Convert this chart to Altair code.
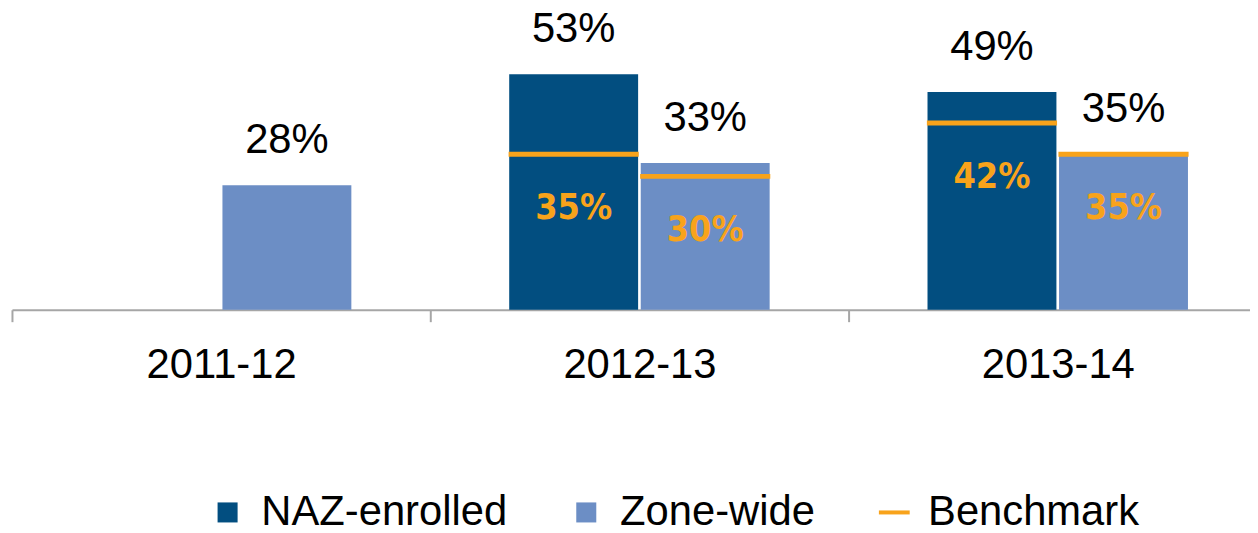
import altair as alt
import pandas as pd

years = ["2011-12", "2012-13", "2013-14"]
series_names = ["NAZ-enrolled", "Zone-wide"]
legend_names = ["NAZ-enrolled", "Zone-wide", "Benchmark"]
naz_values = [None, 53, 49]
zone_values = [28, 33, 35]
naz_benchmark = [None, 35, 42]
zone_benchmark = [None, 30, 35]

DARK = "#024E80"
LIGHT = "#6C8EC5"
ORANGE = "#F8A31B"
SQUARE = "M-0.65,-0.65H0.65V0.65H-0.65Z"
DASH = "M-1,-0.13H1V0.13H-1Z"

rows, brows = [], []
for i, yr in enumerate(years):
    for s, vals, bms in [("NAZ-enrolled", naz_values, naz_benchmark),
                         ("Zone-wide", zone_values, zone_benchmark)]:
        if vals[i] is not None:
            rows.append({"year": yr, "series": s, "value": vals[i],
                         "label": f"{vals[i]}%"})
        if bms[i] is not None:
            brows.append({"year": yr, "series": s, "benchmark": bms[i],
                          "blabel": f"{bms[i]}%"})
df = pd.DataFrame(rows)
bdf = pd.DataFrame(brows)

x_enc = alt.X("year:N", sort=years,
              scale=alt.Scale(domain=years, range=[0, 1263], paddingInner=0, paddingOuter=0),
              axis=alt.Axis(title=None, labelAngle=0, labelFontSize=42, labelFont="Liberation Sans",
                            labelColor="black", domainColor="#A6A6A6", domainWidth=2,
                            tickColor="#A6A6A6", tickWidth=2, tickSize=12, tickBand="extent",
                            labelPadding=23, grid=False))
xo_enc = alt.XOffset("series:N", scale=alt.Scale(domain=series_names, paddingInner=0.02, paddingOuter=0.6))
y_scale = alt.Scale(domain=[0, 67.5], nice=False)

legend = alt.Legend(
    title=None, orient="none", legendX=196, legendY=485, direction="horizontal",
    labelFontSize=42, labelFont="Liberation Sans", labelColor="black", labelLimit=0,
    symbolSize=961, symbolStrokeWidth=0, symbolOpacity=1, labelOffset=13,
    columnPadding=58, padding=0,
)
color_enc = alt.Color("series:N", scale=alt.Scale(domain=legend_names, range=[DARK, LIGHT, ORANGE]),
                      legend=legend)
shape_enc = alt.Shape("series:N", scale=alt.Scale(domain=legend_names, range=[SQUARE, SQUARE, DASH]),
                      legend=legend)

bars = alt.Chart(df).mark_bar().encode(
    x=x_enc, xOffset=xo_enc,
    y=alt.Y("value:Q", scale=y_scale, axis=None),
    color=color_enc,
)

legend_pts = alt.Chart(df).mark_point(filled=True, opacity=0).encode(
    x=x_enc, xOffset=xo_enc,
    y=alt.Y("value:Q", scale=y_scale),
    color=color_enc, shape=shape_enc,
)

value_text = alt.Chart(df).mark_text(
    fontSize=42, font="Liberation Sans", color="black", baseline="alphabetic", dy=-32
).encode(x=x_enc, xOffset=xo_enc, y=alt.Y("value:Q", scale=y_scale), text="label:N")

ticks = alt.Chart(bdf).mark_tick(size=131, thickness=5, color=ORANGE, opacity=1).encode(
    x=x_enc, xOffset=xo_enc, y=alt.Y("benchmark:Q", scale=y_scale))

bench_text = alt.Chart(bdf).mark_text(
    fontSize=36, font="Liberation Sans Narrow, DejaVu Sans Condensed, Liberation Sans",
    fontWeight="bold", color=ORANGE, baseline="alphabetic", dy=65
).encode(x=x_enc, xOffset=xo_enc, y=alt.Y("benchmark:Q", scale=y_scale), text="blabel:N")

chart = alt.layer(bars, legend_pts, ticks, value_text, bench_text).properties(
    width=1246, height=302,
    autosize=alt.AutoSizeParams(type="none"),
    padding={"left": 4, "top": 0, "right": 0, "bottom": 223},
).configure(background="white").configure_view(stroke=None)

chart.save("out.html", embed_options={"renderer": "svg", "actions": False})
